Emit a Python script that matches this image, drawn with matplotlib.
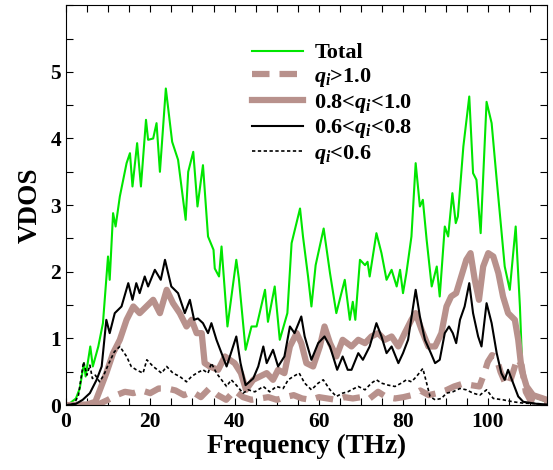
import matplotlib
matplotlib.use("Agg")
import matplotlib.pyplot as plt
from matplotlib.ticker import MultipleLocator

# Total VDOS
f_total = [0, 1, 2.4, 3.3, 4.3, 4.7, 5.8, 6.4, 7.7, 8.8, 10.0, 10.4, 11.2, 11.8, 12.8,
           14.4, 15.2, 15.8, 16.9, 17.8, 19.0, 19.5, 20.7, 21.5, 22.3, 23.7, 25.2, 26.6,
           28.4, 29.0, 30.2, 31.2, 32.5, 33.7, 35.0, 35.3, 36.3, 36.9, 38.3, 40.4, 41.0,
           42.6, 44.0, 45.2, 47.2, 47.9, 49.5, 50.7, 52.5, 53.5, 55.5, 56.2, 57.4, 58.2,
           59.2, 61.1, 62.6, 64.1, 66.1, 67.3, 68.0, 68.6, 69.7, 70.9, 71.5, 72.0, 73.6,
           74.8, 76.0, 77.2, 78.4, 79.2, 79.9, 80.7, 81.9, 82.9, 83.9, 84.6, 85.5, 86.7,
           87.9, 88.6, 89.8, 90.6, 91.6, 92.4, 92.9, 94.2, 95.6, 96.5, 97.3, 98.3, 99.7,
           100.9, 102.1, 103.2, 104.0, 105.2, 106.6, 107.6, 108.2, 109.5, 111.0, 114.0]
v_total = [0, 0.03, 0.1, 0.25, 0.63, 0.43, 0.88, 0.58, 0.88, 1.23, 2.23, 1.88, 2.88, 2.68, 3.13,
           3.63, 3.78, 3.28, 3.93, 3.28, 4.28, 3.98, 4.0, 4.23, 3.5, 4.75, 3.95, 3.68,
           2.78, 3.5, 3.8, 2.98, 3.6, 2.53, 2.33, 2.05, 1.93, 2.38, 1.18, 2.18, 1.9,
           0.83, 1.18, 1.18, 1.73, 1.25, 1.78, 0.98, 1.38, 2.43, 2.95, 2.53, 1.93, 1.48,
           2.1, 2.65, 1.98, 1.38, 1.88, 1.28, 1.55, 1.28, 2.18, 2.1, 2.15, 1.93, 2.58,
           2.28, 1.88, 2.03, 1.78, 2.03, 1.68, 1.98, 2.53, 3.63, 2.98, 3.08, 2.48, 1.78,
           2.08, 1.63, 2.68, 2.53, 3.18, 2.73, 2.83, 3.88, 4.63, 3.48, 3.38, 2.58, 4.55,
           4.23, 3.38, 2.63, 2.08, 1.73, 2.68, 1.48, 0.48, 0.22, 0.12, 0.05]

# q_i > 1.0
f_q1 = [0, 5, 8, 10, 12, 14, 16, 18, 20, 22, 24, 26, 28, 30, 32, 34, 36, 38, 40, 42, 44,
        46, 48, 50, 52, 54, 56, 58, 60, 62, 64, 66, 68, 70, 72, 74, 76, 78, 80, 82, 84,
        86, 88, 90, 92, 94, 96, 98, 99, 100, 101, 102, 103, 104, 105, 106, 107, 108,
        109, 110, 112, 114]
v_q1 = [0, 0, 0.02, 0.08, 0.15, 0.2, 0.18, 0.22, 0.18, 0.25, 0.25, 0.22, 0.15, 0.2, 0.12,
        0.25, 0.15, 0.08, 0.22, 0.12, 0.08, 0.1, 0.12, 0.08, 0.12, 0.15, 0.1, 0.08, 0.12,
        0.1, 0.08, 0.12, 0.1, 0.12, 0.1, 0.2, 0.12, 0.1, 0.12, 0.15, 0.22, 0.15, 0.18,
        0.22, 0.28, 0.32, 0.3, 0.28, 0.45, 0.65, 0.75, 0.72, 0.5, 0.35, 0.3, 0.5, 0.7,
        0.6, 0.2, 0.08, 0.03, 0.02]

# 0.8 < q_i < 1.0
f_q2 = [0, 5, 7, 8.1, 9.6, 11.2, 12.8, 14.4, 16.0, 17.5, 19.1, 20.7, 22.3, 23.9, 25.4,
        27.0, 28.6, 29.8, 31.0, 32.2, 32.9, 34.1, 36.1, 37.7, 40.0, 41.5, 42.7, 44.4,
        46.0, 47.6, 49.1, 50.3, 51.8, 53.1, 54.7, 55.8, 57.0, 58.6, 60.2, 61.3, 62.6,
        64.1, 65.6, 67.7, 69.3, 70.9, 72.4, 74.0, 75.6, 77.2, 78.8, 80.3, 81.9, 82.9,
        84.3, 85.9, 87.5, 89.0, 90.2, 91.3, 92.5, 93.7, 94.9, 95.9, 96.9, 97.9, 98.9,
        100.1, 101.3, 102.5, 103.6, 104.8, 106.4, 107.2, 108.0, 109.2, 110.7, 114.0]
v_q2 = [0, 0.01, 0.05, 0.23, 0.48, 0.78, 0.98, 1.28, 1.48, 1.38, 1.48, 1.58, 1.38, 1.73, 1.53,
        1.38, 1.18, 1.28, 1.08, 1.08, 0.63, 0.58, 0.53, 0.73, 0.63, 0.48, 0.23, 0.38,
        0.43, 0.48, 0.38, 0.53, 0.48, 0.88, 1.08, 0.93, 0.63, 0.58, 0.88, 1.18, 0.93,
        0.73, 0.98, 0.88, 0.98, 0.93, 1.03, 1.08, 0.98, 1.03, 0.88, 1.08, 1.28, 1.38,
        1.13, 0.88, 0.88, 1.08, 1.48, 1.63, 1.68, 1.93, 2.18, 2.28, 1.88, 1.58, 2.08,
        2.28, 2.23, 1.98, 1.63, 1.38, 1.28, 0.98, 0.53, 0.28, 0.15, 0.08]

# 0.6 < q_i < 0.8
f_q3 = [0, 2.4, 4.0, 5.7, 7.3, 8.5, 9.6, 10.4, 11.6, 13.2, 14.8, 15.8, 16.7, 17.5, 18.7,
        19.5, 21.1, 22.5, 23.5, 25.0, 25.8, 26.6, 28.2, 29.4, 30.4, 31.3, 32.5, 33.7,
        34.5, 35.7, 36.9, 38.1, 40.4, 41.4, 42.6, 44.4, 45.6, 46.8, 47.6, 49.1, 50.3,
        51.8, 53.1, 54.2, 55.8, 56.6, 58.2, 59.8, 61.3, 62.6, 64.3, 65.6, 66.8, 67.7,
        69.3, 70.4, 72.0, 73.6, 74.8, 76.0, 77.2, 78.8, 79.9, 81.1, 82.9, 83.9, 85.1,
        86.5, 87.5, 88.6, 89.8, 90.8, 91.7, 92.5, 93.4, 94.5, 95.6, 96.5, 97.7, 98.5,
        99.7, 100.9, 102.1, 103.2, 104.0, 104.8, 106.0, 107.2, 108.4, 111.5, 114.0]
v_q3 = [0, 0.02, 0.08, 0.18, 0.38, 0.58, 1.28, 1.08, 1.38, 1.48, 1.83, 1.58, 1.83, 1.68, 1.93,
        1.78, 2.03, 1.88, 2.18, 1.78, 1.73, 1.68, 1.38, 1.58, 1.28, 1.3, 1.23, 1.08,
        1.23, 0.98, 0.78, 0.58, 1.03, 0.63, 0.3, 0.4, 0.58, 0.88, 0.63, 0.83, 0.58,
        0.73, 1.18, 1.08, 1.33, 1.03, 0.68, 0.93, 1.03, 0.88, 0.53, 0.73, 0.53, 0.53,
        0.78, 0.68, 0.88, 1.23, 1.03, 0.78, 0.88, 0.63, 0.78, 0.98, 1.73, 1.33, 0.98,
        0.78, 0.63, 0.68, 1.08, 1.18, 1.08, 0.93, 1.28, 1.48, 1.83, 1.38, 1.03, 0.88,
        1.53, 1.23, 0.78, 0.48, 0.38, 0.53, 0.33, 0.13, 0.05, 0.02, 0.01]

# q_i < 0.6
f_q4 = [0, 2.0, 3.0, 4.2, 5.0, 5.7, 6.3, 7.0, 8.0, 9.0, 10.0, 11.5, 12.8, 14.4, 15.5, 16.7,
        18.3, 19.2, 20.7, 22.7, 23.9, 25.4, 27.0, 28.6, 29.8, 31.0, 32.5, 33.7, 34.5,
        35.7, 36.9, 38.1, 39.2, 40.4, 42.0, 43.2, 44.8, 46.8, 48.3, 49.9, 51.5, 52.7,
        53.9, 55.3, 56.6, 58.2, 59.8, 61.0, 62.6, 64.1, 65.6, 66.8, 67.7, 69.3, 70.9,
        72.4, 73.6, 74.8, 76.4, 78.0, 79.5, 80.7, 81.9, 83.1, 84.6, 85.5, 86.3, 87.5,
        89.0, 90.2, 91.7, 93.4, 94.9, 96.5, 98.1, 99.7, 101.3, 103.6, 106.0, 108.4, 112.4]
v_q4 = [0, 0.02, 0.15, 0.65, 0.45, 0.6, 0.4, 0.45, 0.35, 0.45, 0.6, 0.8, 0.88, 0.73, 0.58, 0.53,
        0.48, 0.68, 0.58, 0.48, 0.58, 0.48, 0.43, 0.35, 0.43, 0.48, 0.53, 0.48, 0.63,
        0.48, 0.38, 0.28, 0.38, 0.3, 0.18, 0.23, 0.2, 0.28, 0.2, 0.28, 0.25, 0.38,
        0.43, 0.48, 0.33, 0.23, 0.33, 0.38, 0.23, 0.13, 0.18, 0.2, 0.23, 0.28, 0.23,
        0.33, 0.38, 0.33, 0.3, 0.28, 0.33, 0.38, 0.35, 0.43, 0.55, 0.33, 0.13, 0.08,
        0.1, 0.18, 0.2, 0.25, 0.23, 0.18, 0.15, 0.23, 0.1, 0.08, 0.05, 0.03, 0.02]

plt.rcParams['font.family'] = 'Liberation Serif'
plt.rcParams['font.weight'] = 'bold'
plt.rcParams['mathtext.fontset'] = 'custom'
plt.rcParams['mathtext.rm'] = 'Liberation Serif:bold'
plt.rcParams['mathtext.it'] = 'Liberation Serif:italic:bold'

brown = '#b8918c'

fig = plt.figure(figsize=(5.53, 4.70), dpi=100)
ax = fig.add_axes([0.119, 0.138, 0.870, 0.851])

ax.plot(f_total, v_total, color='#00e600', lw=1.5, label='Total')
ax.plot(f_q1, v_q1, color=brown, lw=4.5, dashes=(2.8, 1.6), label=r'$q_i$>1.0')
ax.plot(f_q2, v_q2, color=brown, lw=4.5, label=r'0.8<$q_i$<1.0')
ax.plot(f_q3, v_q3, color='black', lw=1.5, label=r'0.6<$q_i$<0.8')
ax.plot(f_q4, v_q4, color='black', lw=1.2, dashes=(2, 1.5), label=r'$q_i$<0.6')

ax.set_xlim(0, 114)
ax.set_ylim(0, 6)
ax.xaxis.set_major_locator(MultipleLocator(20))
ax.xaxis.set_minor_locator(MultipleLocator(5))
ax.yaxis.set_major_locator(MultipleLocator(1))
ax.yaxis.set_minor_locator(MultipleLocator(0.5))
ax.set_yticks([0, 1, 2, 3, 4, 5])
ax.tick_params(which='both', direction='in', top=True, right=True, length=5, width=0.8,
               labelsize=15.5)
ax.tick_params(axis='x', pad=5)

ax.set_xlabel('Frequency (THz)', fontsize=19.5, fontweight='bold', labelpad=1)
ax.set_ylabel('VDOS', fontsize=19.5, fontweight='bold', labelpad=5)

ax.legend(loc='upper left', bbox_to_anchor=(0.355, 0.945), frameon=False, fontsize=16,
          handlelength=2.3, labelspacing=0.12, handletextpad=0.5, borderpad=0.2)

fig.savefig('out.png', dpi=100)
